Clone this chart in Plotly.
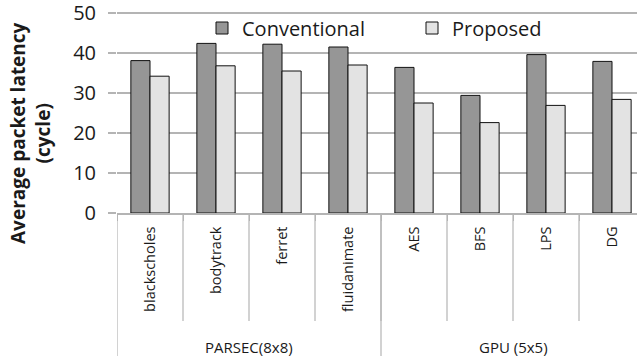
import plotly.graph_objects as go

# Benchmarks (inner labels) and the suite each one belongs to
benchmarks = ["blackscholes", "bodytrack", "ferret", "fluidanimate", "AES", "BFS", "LPS", "DG"]
suites = ["PARSEC(8x8)", "GPU (5x5)"]
suite_sizes = [4, 4]

# Average packet latency in cycles
conventional = [38.1, 42.4, 42.2, 41.5, 36.4, 29.4, 39.6, 37.9]
proposed = [34.2, 36.8, 35.5, 37.0, 27.5, 22.6, 26.9, 28.4]

y_ticks = [0, 10, 20, 30, 40, 50]

FONT = "Open Sans"
TEXT = "#1a1a1a"
GRID = "#b4b4b4"

W, H = 637, 356
M_L, M_T, M_B = 117, 10, 143
plot_w = W - M_L
plot_h = H - M_T - M_B
AXIS_Y = H - M_B  # pixel row of the category axis


def py(pixel_row):
    """Paper y coordinate for a pixel row of the figure."""
    return (AXIS_Y - pixel_row) / plot_h


fig = go.Figure()
fig.add_trace(go.Bar(
    x=benchmarks, y=conventional, name="Conventional",
    marker=dict(color="#969696", line=dict(color="#111111", width=1)),
))
fig.add_trace(go.Bar(
    x=benchmarks, y=proposed, name="Proposed",
    marker=dict(color="#e3e3e3", line=dict(color="#111111", width=1)),
))

n = len(benchmarks)

# Long separators between benchmarks inside the label band
shapes = []
for i in range(1, n):
    shapes.append(dict(type="line", xref="x", yref="paper",
                       x0=i - 0.5, x1=i - 0.5, y0=0, y1=py(321),
                       line=dict(color=GRID, width=1.2), layer="above"))
# Suite separators running the full depth
start = 0
bounds = [0]
for s in suite_sizes:
    start += s
    bounds.append(start)
for b in bounds:
    shapes.append(dict(type="line", xref="x", yref="paper",
                       x0=b - 0.5, x1=b - 0.5, y0=0, y1=py(H),
                       line=dict(color=GRID, width=1.2), layer="above"))

annotations = []
for k, name in enumerate(suites):
    center = (bounds[k] + bounds[k + 1] - 1) / 2
    annotations.append(dict(text=name, xref="x", yref="paper", x=center,
                            y=py(347), showarrow=False,
                            xanchor="center", yanchor="middle",
                            font=dict(family=FONT, size=15, color=TEXT)))

# Two-line bold y-axis title
annotations.append(dict(
    text="<b>Average packet latency<br>(cycle)</b>", textangle=-90,
    xref="paper", yref="paper", x=-(M_L - 30) / plot_w, y=py(133),
    xanchor="center", yanchor="middle", showarrow=False,
    font=dict(family=FONT, size=19, color=TEXT),
))

fig.update_layout(
    width=W, height=H,
    margin=dict(l=M_L, r=0, t=M_T, b=M_B),
    paper_bgcolor="white", plot_bgcolor="white",
    barmode="group", bargap=0.42, bargroupgap=0,
    font=dict(family=FONT, color=TEXT),
    showlegend=True,
    legend=dict(
        orientation="h", x=(202 - M_L) / plot_w, y=py(28),
        xanchor="left", yanchor="middle",
        font=dict(family=FONT, size=20, color=TEXT),
        bgcolor="rgba(0,0,0,0)", entrywidth=165, entrywidthmode="pixels",
        itemclick=False,
    ),
    shapes=shapes,
    annotations=annotations,
)

fig.update_xaxes(
    type="category", range=[-0.5, n - 0.5 - 8 / 66],
    showline=True, linecolor=GRID, linewidth=1.5,
    ticks="outside", tickson="boundaries", ticklen=6, tickcolor=GRID,
    tickangle=-90, ticklabelstandoff=6,
    tickfont=dict(family=FONT, size=14.5, color=TEXT),
    showgrid=False, fixedrange=True,
)
# A little headroom above 50 keeps its gridline from being clipped at the edge
fig.update_yaxes(
    range=[0, 50 * plot_h / 200], tickvals=y_ticks, ticktext=[str(v) for v in y_ticks],
    showgrid=True, gridcolor=GRID, gridwidth=1.5,
    ticks="outside", ticklen=8, tickcolor=GRID, tickwidth=1.5,
    ticklabelstandoff=8, ticklabeloverflow="allow",
    tickfont=dict(family=FONT, size=20, color=TEXT),
    zeroline=False, showline=False, fixedrange=True,
)

fig.write_html("out.html", config={"displayModeBar": False})
